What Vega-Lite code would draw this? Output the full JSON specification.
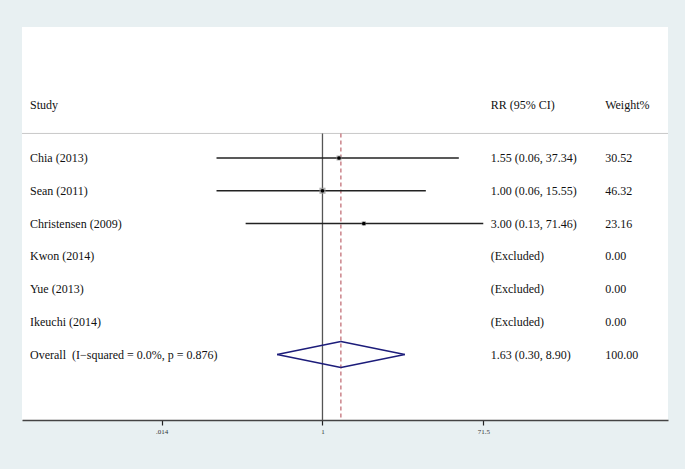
{
  "$schema": "https://vega.github.io/schema/vega-lite/v6.json",
  "width": 646,
  "height": 393,
  "autosize": {"type": "none"},
  "padding": {"left": 22, "top": 27, "right": 17, "bottom": 49},
  "background": "#e8f0f2",
  "config": {
    "view": {"fill": "white", "stroke": null},
    "font": "Liberation Serif",
    "text": {"font": "Liberation Serif", "fontSize": 12, "color": "#111111", "baseline": "middle", "align": "left"}
  },
  "data": {
    "values": [
      {"type": "study", "study": "Chia (2013)", "row": 1, "est": 1.55, "lo": 0.06, "hi": 37.34, "ci": "1.55 (0.06, 37.34)", "weight": 30.52},
      {"type": "study", "study": "Sean (2011)", "row": 2, "est": 1.00, "lo": 0.06, "hi": 15.55, "ci": "1.00 (0.06, 15.55)", "weight": 46.32},
      {"type": "study", "study": "Christensen (2009)", "row": 3, "est": 3.00, "lo": 0.13, "hi": 71.46, "ci": "3.00 (0.13, 71.46)", "weight": 23.16},
      {"type": "study", "study": "Kwon (2014)", "row": 4, "est": null, "lo": null, "hi": null, "ci": "(Excluded)", "weight": 0},
      {"type": "study", "study": "Yue (2013)", "row": 5, "est": null, "lo": null, "hi": null, "ci": "(Excluded)", "weight": 0},
      {"type": "study", "study": "Ikeuchi (2014)", "row": 6, "est": null, "lo": null, "hi": null, "ci": "(Excluded)", "weight": 0},
      {"type": "overall", "study": "Overall \u00a0(I\u2212squared = 0.0%, p = 0.876)", "row": 7, "est": 1.63, "lo": 0.30, "hi": 8.90, "ci": "1.63 (0.30, 8.90)", "weight": 100}
    ]
  },
  "layer": [
    {
      "data": {"values": [{}]},
      "mark": {"type": "rule", "color": "#c8c8c8", "strokeWidth": 1},
      "encoding": {
        "y": {"datum": 0.25, "type": "quantitative", "scale": {"domain": [-3, 9], "reverse": true, "nice": false, "zero": false}, "axis": null}
      }
    },
    {
      "data": {"values": [{}]},
      "mark": {"type": "rule", "color": "#555555", "strokeWidth": 1.3},
      "encoding": {
        "x": {"datum": 1, "type": "quantitative", "title": null},
        "y": {"datum": 0.25, "type": "quantitative", "axis": null},
        "y2": {"datum": 9}
      }
    },
    {
      "transform": [{"filter": "datum.type == 'overall'"}],
      "mark": {"type": "rule", "color": "#c27078", "strokeWidth": 1.3, "strokeDash": [4, 3]},
      "encoding": {
        "x": {"field": "est", "type": "quantitative", "title": null},
        "y": {"datum": 0.25, "type": "quantitative", "axis": null},
        "y2": {"datum": 9}
      }
    },
    {
      "transform": [{"filter": "datum.type == 'study' && datum.lo != null"}],
      "mark": {"type": "rule", "color": "#222222", "strokeWidth": 1.3},
      "encoding": {
        "x": {
          "field": "lo", "type": "quantitative", "title": null,
          "scale": {"type": "log", "domain": [0.000343, 9640], "nice": false},
          "axis": {
            "values": [0.014, 1, 71.5],
            "labelExpr": "datum.value < 0.1 ? '.014' : (datum.value > 10 ? '71.5' : '1')",
            "grid": false, "tickSize": 5, "tickColor": "#222222", "tickWidth": 1.2,
            "domainColor": "#444444", "domainWidth": 1.6,
            "labelFontSize": 7, "labelColor": "#333333", "labelFont": "Liberation Serif", "labelPadding": 2,
            "title": null
          }
        },
        "x2": {"field": "hi"},
        "y": {"field": "row", "type": "quantitative", "axis": null}
      }
    },
    {
      "transform": [{"filter": "datum.type == 'study' && datum.est != null"}],
      "mark": {"type": "point", "shape": "square", "filled": true, "color": "#9a9a9a", "opacity": 0.8},
      "encoding": {
        "x": {"field": "est", "type": "quantitative", "title": null},
        "y": {"field": "row", "type": "quantitative", "axis": null},
        "size": {"field": "weight", "type": "quantitative", "scale": {"domain": [0, 50], "range": [0, 40]}, "legend": null}
      }
    },
    {
      "transform": [{"filter": "datum.type == 'study' && datum.est != null"}],
      "mark": {"type": "point", "shape": "circle", "filled": true, "color": "#000000", "size": 14, "opacity": 1},
      "encoding": {
        "x": {"field": "est", "type": "quantitative", "title": null},
        "y": {"field": "row", "type": "quantitative", "axis": null}
      }
    },
    {
      "transform": [{"filter": "datum.type == 'overall'"}],
      "mark": {"type": "rule", "color": "#1c1c7a", "strokeWidth": 1.3, "y2Offset": -13},
      "encoding": {
        "x": {"field": "lo", "type": "quantitative", "title": null},
        "x2": {"field": "est"},
        "y": {"field": "row", "type": "quantitative", "axis": null},
        "y2": {"field": "row"}
      }
    },
    {
      "transform": [{"filter": "datum.type == 'overall'"}],
      "mark": {"type": "rule", "color": "#1c1c7a", "strokeWidth": 1.3, "y2Offset": 13},
      "encoding": {
        "x": {"field": "lo", "type": "quantitative", "title": null},
        "x2": {"field": "est"},
        "y": {"field": "row", "type": "quantitative", "axis": null},
        "y2": {"field": "row"}
      }
    },
    {
      "transform": [{"filter": "datum.type == 'overall'"}],
      "mark": {"type": "rule", "color": "#1c1c7a", "strokeWidth": 1.3, "yOffset": -13},
      "encoding": {
        "x": {"field": "est", "type": "quantitative", "title": null},
        "x2": {"field": "hi"},
        "y": {"field": "row", "type": "quantitative", "axis": null},
        "y2": {"field": "row"}
      }
    },
    {
      "transform": [{"filter": "datum.type == 'overall'"}],
      "mark": {"type": "rule", "color": "#1c1c7a", "strokeWidth": 1.3, "yOffset": 13},
      "encoding": {
        "x": {"field": "est", "type": "quantitative", "title": null},
        "x2": {"field": "hi"},
        "y": {"field": "row", "type": "quantitative", "axis": null},
        "y2": {"field": "row"}
      }
    },
    {
      "mark": {"type": "text"},
      "encoding": {
        "x": {"datum": 0.000424, "type": "quantitative"},
        "y": {"field": "row", "type": "quantitative", "axis": null},
        "text": {"field": "study"}
      }
    },
    {
      "mark": {"type": "text"},
      "encoding": {
        "x": {"datum": 87, "type": "quantitative"},
        "y": {"field": "row", "type": "quantitative", "axis": null},
        "text": {"field": "ci"}
      }
    },
    {
      "mark": {"type": "text"},
      "encoding": {
        "x": {"datum": 1816, "type": "quantitative"},
        "y": {"field": "row", "type": "quantitative", "axis": null},
        "text": {"field": "weight", "type": "quantitative", "format": ".2f"}
      }
    },
    {
      "data": {"values": [{}]},
      "mark": {"type": "text", "text": "Study"},
      "encoding": {
        "x": {"datum": 0.000424, "type": "quantitative"},
        "y": {"datum": -0.62, "type": "quantitative", "axis": null}
      }
    },
    {
      "data": {"values": [{}]},
      "mark": {"type": "text", "text": "RR (95% CI)"},
      "encoding": {
        "x": {"datum": 87, "type": "quantitative"},
        "y": {"datum": -0.62, "type": "quantitative", "axis": null}
      }
    },
    {
      "data": {"values": [{}]},
      "mark": {"type": "text", "text": "Weight%"},
      "encoding": {
        "x": {"datum": 1816, "type": "quantitative"},
        "y": {"datum": -0.62, "type": "quantitative", "axis": null}
      }
    }
  ]
}
